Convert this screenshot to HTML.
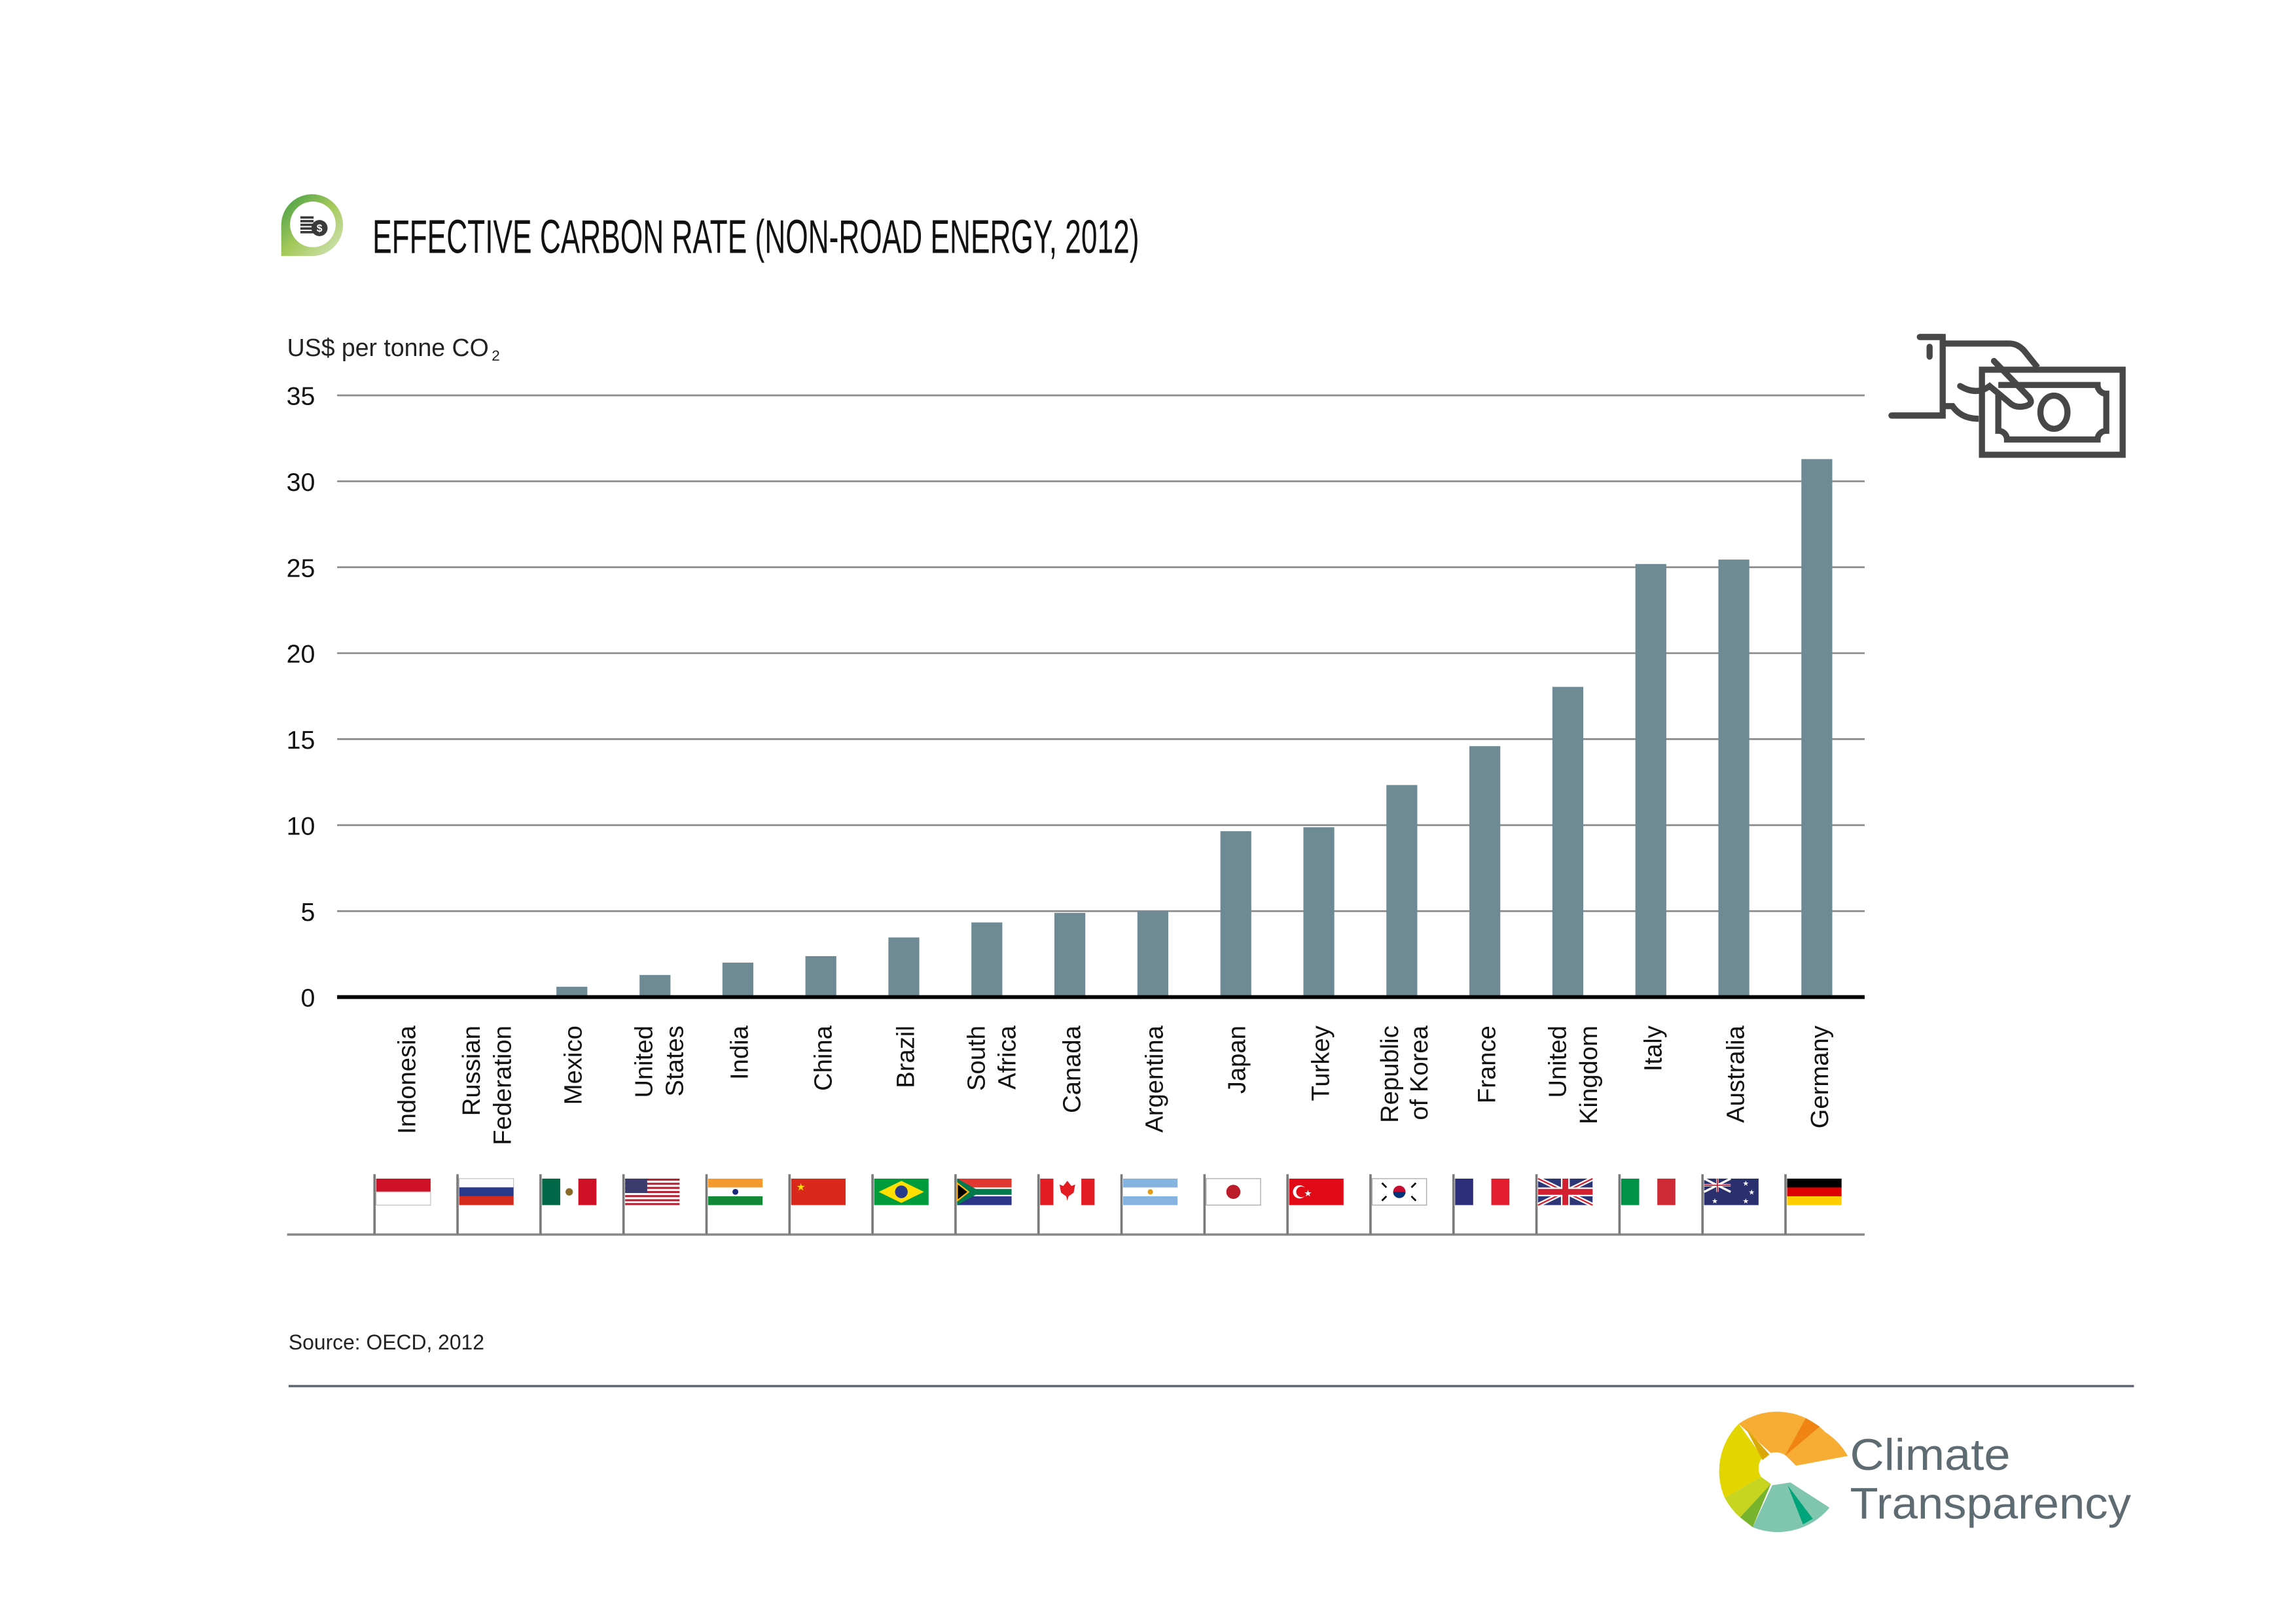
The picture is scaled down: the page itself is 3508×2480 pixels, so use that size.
<!DOCTYPE html>
<html><head><meta charset="utf-8"><style>
html,body{margin:0;padding:0;background:#fff;}
svg{display:block;}
text{font-family:"Liberation Sans",sans-serif;}
</style></head><body>
<svg width="3508" height="2480" viewBox="0 0 1560 1103" xmlns="http://www.w3.org/2000/svg">
<defs>
<linearGradient id="g1" x1="0" y1="0" x2="1" y2="1">
<stop offset="0" stop-color="#3f9a45"/><stop offset="0.5" stop-color="#a4c95a"/><stop offset="1" stop-color="#d6e6c0"/>
</linearGradient>
</defs>
<rect width="1560" height="1103" fill="#fff"/>
<path d="M191,174 L191,153 A21,21 0 1 1 212,174 Z" fill="url(#g1)"/>
<circle cx="212.5" cy="152.5" r="15.5" fill="#fff"/>
<g fill="#3a3a3a">
<rect x="204" y="147" width="9" height="1.6"/><rect x="204" y="149.5" width="9" height="1.6"/><rect x="204" y="152" width="9" height="1.6"/><rect x="204" y="154.5" width="9" height="1.6"/><rect x="204" y="157" width="9" height="1.6"/>
<circle cx="217" cy="155" r="5.5"/>
</g>
<text x="217" y="157.5" font-size="7" fill="#fff" text-anchor="middle" font-weight="bold">$</text>
<text x="253" y="172" font-size="32" fill="#111" textLength="521" lengthAdjust="spacingAndGlyphs">EFFECTIVE CARBON RATE (NON-ROAD ENERGY, 2012)</text>
<text x="195" y="242" font-size="17" fill="#222" textLength="137" lengthAdjust="spacingAndGlyphs">US$ per tonne CO</text>
<text x="334" y="245" font-size="10" fill="#222">2</text>
<g stroke="#8a8a8a" stroke-width="1.2">
<line x1="229" y1="268.7" x2="1267" y2="268.7"/>
<line x1="229" y1="327.1" x2="1267" y2="327.1"/>
<line x1="229" y1="385.5" x2="1267" y2="385.5"/>
<line x1="229" y1="443.9" x2="1267" y2="443.9"/>
<line x1="229" y1="502.3" x2="1267" y2="502.3"/>
<line x1="229" y1="560.8" x2="1267" y2="560.8"/>
<line x1="229" y1="619.2" x2="1267" y2="619.2"/>
</g>
<g font-size="17.5" fill="#111" text-anchor="end">
<text x="214" y="275">35</text><text x="214" y="333.5">30</text><text x="214" y="392">25</text><text x="214" y="450.4">20</text><text x="214" y="508.8">15</text><text x="214" y="567.3">10</text><text x="214" y="625.7">5</text><text x="214" y="684">0</text>
</g>
<g fill="#6e8a94">
<rect x="378" y="670.6" width="21" height="7"/>
<rect x="434.5" y="662.6" width="21" height="15"/>
<rect x="490.8" y="654.2" width="21" height="23.4"/>
<rect x="547.2" y="649.8" width="21" height="27.8"/>
<rect x="603.6" y="637.1" width="21" height="40.5"/>
<rect x="660" y="626.9" width="21" height="50.7"/>
<rect x="716.4" y="620.4" width="21" height="57.2"/>
<rect x="772.8" y="619.2" width="21" height="58.4"/>
<rect x="829.2" y="564.9" width="21" height="112.7"/>
<rect x="885.6" y="562.2" width="21" height="115.4"/>
<rect x="942" y="533.5" width="21" height="144.1"/>
<rect x="998.4" y="507.1" width="21" height="170.5"/>
<rect x="1054.8" y="466.8" width="21" height="210.8"/>
<rect x="1111.2" y="383.3" width="21" height="294.3"/>
<rect x="1167.6" y="380.3" width="21" height="297.3"/>
<rect x="1224" y="312" width="21" height="365.6"/>
</g>
<line x1="229" y1="677.6" x2="1267" y2="677.6" stroke="#000" stroke-width="2.6"/>
<g font-size="17" fill="#111" text-anchor="end">
<text transform="translate(282,697) rotate(-90)">Indonesia</text>
<text transform="translate(326,697) rotate(-90)">Russian</text>
<text transform="translate(347,697) rotate(-90)">Federation</text>
<text transform="translate(395,697) rotate(-90)">Mexico</text>
<text transform="translate(443,697) rotate(-90)">United</text>
<text transform="translate(464,697) rotate(-90)">States</text>
<text transform="translate(508,697) rotate(-90)">India</text>
<text transform="translate(565,697) rotate(-90)">China</text>
<text transform="translate(621,697) rotate(-90)">Brazil</text>
<text transform="translate(669,697) rotate(-90)">South</text>
<text transform="translate(690,697) rotate(-90)">Africa</text>
<text transform="translate(734,697) rotate(-90)">Canada</text>
<text transform="translate(790,697) rotate(-90)">Argentina</text>
<text transform="translate(846,697) rotate(-90)">Japan</text>
<text transform="translate(903,697) rotate(-90)">Turkey</text>
<text transform="translate(950,697) rotate(-90)">Republic</text>
<text transform="translate(970,697) rotate(-90)">of Korea</text>
<text transform="translate(1016,697) rotate(-90)">France</text>
<text transform="translate(1064,697) rotate(-90)">United</text>
<text transform="translate(1085,697) rotate(-90)">Kingdom</text>
<text transform="translate(1129,697) rotate(-90)">Italy</text>
<text transform="translate(1185,697) rotate(-90)">Australia</text>
<text transform="translate(1242,697) rotate(-90)">Germany</text>
</g>
<g transform="translate(0,-6)">
<line x1="195" y1="845" x2="1267" y2="845" stroke="#8a8a8a" stroke-width="1.6"/>
<g stroke="#7a7a7a" stroke-width="1.6" fill="#7a7a7a">
<line x1="254.4" y1="804" x2="254.4" y2="845"/><line x1="310.8" y1="804" x2="310.8" y2="845"/><line x1="367.2" y1="804" x2="367.2" y2="845"/><line x1="423.6" y1="804" x2="423.6" y2="845"/><line x1="480" y1="804" x2="480" y2="845"/><line x1="536.4" y1="804" x2="536.4" y2="845"/><line x1="592.8" y1="804" x2="592.8" y2="845"/><line x1="649.2" y1="804" x2="649.2" y2="845"/><line x1="705.6" y1="804" x2="705.6" y2="845"/><line x1="762" y1="804" x2="762" y2="845"/><line x1="818.4" y1="804" x2="818.4" y2="845"/><line x1="874.8" y1="804" x2="874.8" y2="845"/><line x1="931.2" y1="804" x2="931.2" y2="845"/><line x1="987.6" y1="804" x2="987.6" y2="845"/><line x1="1044" y1="804" x2="1044" y2="845"/><line x1="1100.4" y1="804" x2="1100.4" y2="845"/><line x1="1156.8" y1="804" x2="1156.8" y2="845"/><line x1="1213.2" y1="804" x2="1213.2" y2="845"/>
</g>
<g>
<rect x="255.5" y="807" width="37" height="9" fill="#ce1126"/><rect x="255.5" y="816" width="37" height="9" fill="#fff" stroke="#bbb" stroke-width="0.5"/>
<rect x="311.9" y="807" width="37" height="6" fill="#fff" stroke="#bbb" stroke-width="0.5"/><rect x="311.9" y="813" width="37" height="6" fill="#293a8d"/><rect x="311.9" y="819" width="37" height="6" fill="#d52b1e"/>
<rect x="368.3" y="807" width="12.3" height="18" fill="#006847"/><rect x="380.6" y="807" width="12.3" height="18" fill="#fff"/><rect x="392.9" y="807" width="12.3" height="18" fill="#ce1126"/><circle cx="386.7" cy="816" r="2.5" fill="#8a6a2a"/>
<rect x="424.7" y="807" width="37" height="18" fill="#fff"/>
<g fill="#b22234"><rect x="424.7" y="807" width="37" height="1.4"/><rect x="424.7" y="809.8" width="37" height="1.4"/><rect x="424.7" y="812.6" width="37" height="1.4"/><rect x="424.7" y="815.4" width="37" height="1.4"/><rect x="424.7" y="818.2" width="37" height="1.4"/><rect x="424.7" y="821" width="37" height="1.4"/><rect x="424.7" y="823.6" width="37" height="1.4"/></g>
<rect x="424.7" y="807" width="15" height="9.8" fill="#3c3b6e"/>
<rect x="481.1" y="807" width="37" height="6" fill="#f4992e"/><rect x="481.1" y="813" width="37" height="6" fill="#fff"/><rect x="481.1" y="819" width="37" height="6" fill="#138837"/><circle cx="499.6" cy="816" r="2" fill="#1a2a80"/>
<rect x="537.5" y="807" width="37" height="18" fill="#da291c"/><text x="541" y="815" font-size="7" fill="#ffde00">★</text>
<rect x="593.9" y="807" width="37" height="18" fill="#009b3a"/><polygon points="597,816 612.4,808.5 627.8,816 612.4,823.5" fill="#fedf00"/><circle cx="612.4" cy="816" r="4.3" fill="#283a8a"/>
<rect x="650.3" y="807" width="37" height="18" fill="#fff"/><rect x="650.3" y="807" width="37" height="6" fill="#de3831"/><rect x="650.3" y="819" width="37" height="6" fill="#2b3487"/><polygon points="650.3,807 663,814 687.3,814 687.3,818 663,818 650.3,825" fill="#007a4d"/><polygon points="650.3,810 658,816 650.3,822" fill="#000" stroke="#ffb612" stroke-width="1"/>
<rect x="706.7" y="807" width="37" height="18" fill="#fff"/><rect x="706.7" y="807" width="9" height="18" fill="#e31b23"/><rect x="734.7" y="807" width="9" height="18" fill="#e31b23"/><polygon points="725.2,808.5 728,812 730.5,811 729.5,816.5 726,819 725.2,822 724.4,819 720.9,816.5 719.9,811 722.4,812" fill="#e31b23"/>
<rect x="763.1" y="807" width="37" height="18" fill="#fff"/><rect x="763.1" y="807" width="37" height="6" fill="#86b3e0"/><rect x="763.1" y="819" width="37" height="6" fill="#86b3e0"/><circle cx="781.6" cy="816" r="1.8" fill="#e39b1a"/>
<rect x="819.5" y="807" width="37" height="18" fill="#fff" stroke="#aaa" stroke-width="0.6"/><circle cx="838" cy="816" r="4.8" fill="#bc1c2a"/>
<rect x="875.9" y="807" width="37" height="18" fill="#e30a17"/><circle cx="883" cy="816" r="4.5" fill="#fff"/><circle cx="884.3" cy="816" r="3.6" fill="#e30a17"/><text x="886" y="819" font-size="6" fill="#fff">★</text>
<rect x="932.3" y="807" width="37" height="18" fill="#fff" stroke="#aaa" stroke-width="0.6"/><circle cx="950.8" cy="816" r="4.2" fill="#c60c30"/><path d="M946.6,816 A4.2,4.2 0 0 0 955,816 Z" fill="#003478"/><g stroke="#000" stroke-width="1.2"><line x1="939" y1="810" x2="942" y2="813"/><line x1="959" y1="819" x2="962" y2="822"/><line x1="959" y1="813" x2="962" y2="810"/><line x1="939" y1="822" x2="942" y2="819"/></g>
<rect x="988.7" y="807" width="12.3" height="18" fill="#2d2e7a"/><rect x="1001" y="807" width="12.3" height="18" fill="#fff"/><rect x="1013.3" y="807" width="12.3" height="18" fill="#e41e30"/>
<rect x="1045.1" y="807" width="37" height="18" fill="#2c3575"/><g stroke="#fff" stroke-width="3"><line x1="1045.1" y1="807" x2="1082.1" y2="825"/><line x1="1045.1" y1="825" x2="1082.1" y2="807"/></g><g stroke="#d22030" stroke-width="1"><line x1="1045.1" y1="807" x2="1082.1" y2="825"/><line x1="1045.1" y1="825" x2="1082.1" y2="807"/></g><rect x="1060.6" y="807" width="6" height="18" fill="#fff"/><rect x="1045.1" y="813" width="37" height="6" fill="#fff"/><rect x="1061.6" y="807" width="4" height="18" fill="#d22030"/><rect x="1045.1" y="814" width="37" height="4" fill="#d22030"/>
<rect x="1101.5" y="807" width="12.3" height="18" fill="#009246"/><rect x="1113.8" y="807" width="12.3" height="18" fill="#fff"/><rect x="1126.1" y="807" width="12.3" height="18" fill="#ce2b37"/>
<rect x="1157.9" y="807" width="37" height="18" fill="#2a2f6e"/><g stroke="#fff" stroke-width="1.5"><line x1="1157.9" y1="807" x2="1175.9" y2="816"/><line x1="1157.9" y1="816" x2="1175.9" y2="807"/><line x1="1166.9" y1="807" x2="1166.9" y2="816"/><line x1="1157.9" y1="811.5" x2="1175.9" y2="811.5"/></g><g stroke="#d22030" stroke-width="0.8"><line x1="1166.9" y1="807" x2="1166.9" y2="816"/><line x1="1157.9" y1="811.5" x2="1175.9" y2="811.5"/></g><g fill="#fff" font-size="5"><text x="1163" y="824">★</text><text x="1184" y="812">★</text><text x="1188" y="818">★</text><text x="1184" y="824">★</text></g>
<rect x="1214.3" y="807" width="37" height="6" fill="#000"/><rect x="1214.3" y="813" width="37" height="6" fill="#dd0000"/><rect x="1214.3" y="819" width="37" height="6" fill="#ffce00"/>
</g>
</g>
<text x="196" y="917" font-size="14.5" fill="#222" textLength="133" lengthAdjust="spacingAndGlyphs">Source: OECD, 2012</text>
<line x1="196" y1="942" x2="1450" y2="942" stroke="#5e6470" stroke-width="1.6"/>
<g transform="scale(0.44470) translate(2880,490) scale(0.33333)" fill="none" stroke="#474747" stroke-width="28" stroke-linecap="round">
<rect x="445" y="225" width="645" height="390" stroke-linecap="butt"/>
<path d="M520,295 H975 A40,40 0 0 0 1015,335 V505 A40,40 0 0 0 975,545 H560 A40,40 0 0 0 520,505 V335" stroke-linecap="butt"/>
<ellipse cx="775" cy="420" rx="62" ry="76"/>
<path d="M160,75 H265 V435 H30" stroke-linecap="butt"/>
<line x1="30" y1="435" x2="265" y2="435"/>
<line x1="160" y1="75" x2="265" y2="75"/>
<path d="M265,105 H570 Q610,105 640,140 L700,215" stroke-linecap="butt"/>
<path d="M500,185 L660,350 Q690,390 620,395 Q590,395 570,375 L480,300 Q420,345 345,300"/>
<path d="M265,392 H310 Q350,450 430,450" stroke-linecap="butt"/>
<line x1="205" y1="120" x2="205" y2="165"/>
</g>
<g transform="translate(1208,998) scale(0.95)">
<path d="M-28,-32 A48,48 0 0 1 34,-26 L8,-7 A12,12 0 0 0 -5,-11 Z" fill="#f7ad33"/>
<path d="M20,-36 L30,-30 L5,-9 Z" fill="#ef8412"/>
<path d="M34,-26 A48,48 0 0 1 50,-9 L13,-2 L6,-9 Z" fill="#f7ad33"/>
<path d="M-28,-32 L-11,-8 A12,12 0 0 0 -12,6 L-38,21 A48,48 0 0 1 -28,-32 Z" fill="#e3d600"/>
<path d="M-23,-29 L-6,-10 L-11,-6 Z" fill="#dba80a"/>
<path d="M-38,21 L-12,6 L-5,11 L-27,35 A48,48 0 0 1 -38,21 Z" fill="#c8d520"/>
<path d="M-27,35 L-5,11 L-18,42 Z" fill="#78b32e"/>
<path d="M-18,42 L-4,12 L9,10 L37,28 A48,48 0 0 1 -18,42 Z" fill="#80c6ae"/>
<path d="M7,12 L25,36 L18,40 Z" fill="#00a47a"/>
</g>
<text x="1257" y="999" font-size="30" fill="#5f6b73" textLength="109" lengthAdjust="spacingAndGlyphs">Climate</text>
<text x="1257" y="1032" font-size="30" fill="#5f6b73" textLength="191" lengthAdjust="spacingAndGlyphs">Transparency</text>
</svg>
</body></html>
